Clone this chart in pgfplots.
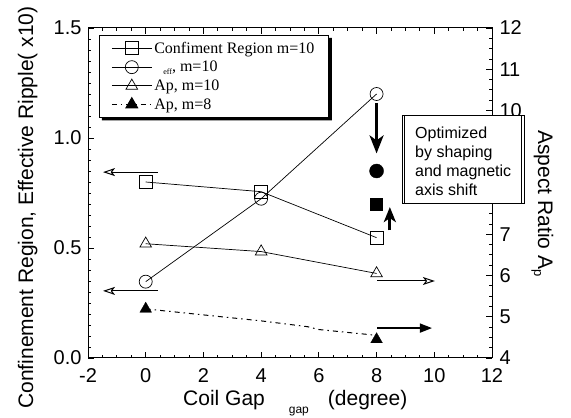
\documentclass[border=0pt]{standalone}
\usepackage{pgfplots}
\pgfplotsset{compat=1.18}
\usepackage{fontspec}
\setmainfont{Liberation Sans}
\newfontfamily\timesfont{Liberation Serif}
\usetikzlibrary{arrows.meta}

\pgfplotsset{
  common/.style={
    at={(88pt,60pt)}, anchor=south west,
    scale only axis, width=404pt, height=330pt,
    xmin=-2, xmax=12,
    tick align=inside,
    major tick length=6pt, minor tick length=3pt,
    every tick/.style={black, line width=0.8pt},
    axis line style={line width=1pt},
    ticklabel style={font=\fontsize{20}{24}\selectfont},
    /pgf/number format/assume math mode=true,
    clip=false,
  },
}

\begin{document}
\begin{tikzpicture}[x=1pt,y=1pt]
\useasboundingbox (0,0) rectangle (571,418);

% ---------- left axis ----------
\begin{axis}[common,
  ymin=0, ymax=1.5,
  xtick={-2,0,...,12}, minor x tick num=3,
  ytick={0,0.5,1.0,1.5}, minor y tick num=9,
  ytick pos=left,
  yticklabel style={/pgf/number format/.cd, fixed, fixed zerofill, precision=1, /tikz/.cd, xshift=-3pt},
  xticklabel style={yshift=-7pt},
  legend style={name=leg, at={(0.027,0.979)}, anchor=north west,
    draw=black, line width=0.8pt, fill=white,
    font=\timesfont\fontsize{16}{18}\selectfont,
    inner xsep=12pt, inner ysep=4.5pt, row sep=2.5pt},
  legend cell align=left,
  legend image code/.code={
    \draw[mark repeat=2,mark phase=2,#1] plot coordinates {(0pt,0pt) (20pt,0pt) (40pt,0pt)};},
]
\addplot[black, line width=0.7pt, mark=square, mark size=6.5pt, mark options={fill=white, solid}]
  coordinates {(0,0.80) (4,0.756) (8,0.547)};
\addlegendentry{Confiment Region m=10}
\addplot[black, line width=0.7pt, mark=o, mark size=6.5pt, mark options={fill=white, solid}]
  coordinates {(0,0.347) (4,0.724) (8,1.20)};
\addlegendentry{\hspace{9pt}\raisebox{-3pt}{\fontsize{8}{8}\selectfont eff}, m=10}
\addlegendimage{black, line width=0.7pt, mark=triangle, mark size=6.7pt, mark options={fill=white, solid}}
\addlegendentry{Ap, m=10}
\addlegendimage{black, line width=1pt, dash pattern=on 5pt off 4pt on 1.5pt off 4pt, mark=triangle*, mark size=6.7pt, mark options={solid}}
\addlegendentry{Ap, m=8}

% optimized points
\addplot[only marks, black, mark=*, mark size=7pt, forget plot] coordinates {(8,0.85)};
\addplot[only marks, black, mark=square*, mark size=6pt, forget plot] coordinates {(8,0.70)};

% axis-indicator arrows
\addplot[black, line width=1pt, -{Stealth[open, length=12pt, width=8pt, inset=3pt]}, forget plot]
  coordinates {(0.41,0.845) (-1.48,0.845)};
\addplot[black, line width=1pt, -{Stealth[open, length=12pt, width=8pt, inset=3pt]}, forget plot]
  coordinates {(0.41,0.305) (-1.48,0.305)};
\addplot[black, line width=1pt, -{Stealth[open, length=12pt, width=8pt, inset=3pt]}, forget plot]
  coordinates {(8.03,0.35) (10.02,0.35)};
\addplot[black, line width=1.5pt, -{Triangle[length=12pt, width=9pt]}, forget plot]
  coordinates {(8.03,0.136) (9.92,0.136)};

% optimization arrows
\addplot[black, line width=2.8pt, -{Stealth[length=18pt, width=14pt, inset=5pt]}, forget plot]
  coordinates {(8,1.16) (8,0.93)};
\addplot[black, line width=2.8pt, -{Stealth[length=15pt, width=12pt, inset=4pt]}, forget plot]
  coordinates {(8.46,0.58) (8.46,0.686)};
\end{axis}

% ---------- right axis ----------
\begin{axis}[common,
  ymin=4, ymax=12,
  axis y line*=right, axis x line=none,
  ytick={4,5,...,12}, minor y tick num=3,
  yticklabel style={xshift=4pt},
]
\addplot[black, line width=0.7pt, mark=triangle, mark size=6.7pt, mark options={fill=white, solid}]
  coordinates {(0,6.77) (4,6.58) (8,6.05)};
\addplot[black, line width=1pt, dash pattern=on 5pt off 4pt on 1.5pt off 4pt]
  coordinates {(0,5.19) (4,4.90) (5.6,4.76) (6,4.69) (8,4.55)};
\addplot[only marks, black, mark=triangle*, mark size=6.7pt]
  coordinates {(0,5.19) (8,4.45)};
\end{axis}

% ---------- legend shadow (bottom and right strips) ----------
\fill[black] ([yshift=-3pt]leg.north east) -- ([xshift=3pt,yshift=-3pt]leg.north east)
  -- ([xshift=3pt,yshift=-3pt]leg.south east) -- ([xshift=3pt,yshift=-3pt]leg.south west)
  -- ([xshift=3pt]leg.south west) -- (leg.south east) -- cycle;

% ---------- annotation box ----------
\draw[line width=0.8pt, fill=white] (402,215) rectangle (524,303);
\draw[line width=0.8pt] (404.5,215) -- (404.5,303);
\draw[line width=0.8pt] (521.5,215) -- (521.5,303);
\begin{scope}[every node/.style={anchor=base west, inner sep=0pt, font=\fontsize{16}{19}\selectfont}]
\node at (415,279) {Optimized};
\node at (415,260) {by shaping};
\node at (415,241) {and magnetic};
\node at (415,222) {axis shift};
\end{scope}

% ---------- axis labels ----------
\node[anchor=base west, inner sep=0pt, font=\fontsize{21}{24}\selectfont] at (183,12)
  {Coil Gap\hspace{24pt}\raisebox{-8pt}{\fontsize{12}{12}\selectfont gap}\hspace{19pt}(degree)};
\node[rotate=90, anchor=base, inner sep=0pt, font=\fontsize{21}{24}\selectfont] at (33,210.5)
  {Confinement Region, Effective Ripple( x10)};
\node[rotate=-90, anchor=base, inner sep=0pt, font=\fontsize{21}{24}\selectfont] at (538,214.5)
  {Aspect Ratio A\raisebox{-4pt}{\fontsize{13}{13}\selectfont p}};
\end{tikzpicture}
\end{document}
